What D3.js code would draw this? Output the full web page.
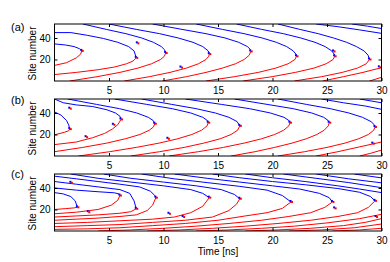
<!DOCTYPE html>
<html>
<head>
<meta charset="utf-8">
<script src="https://cdn.jsdelivr.net/npm/d3@7"></script>
<style>
  body { margin: 0; background: #fff; }
  text { font-family: "Liberation Sans", Arial, sans-serif; fill: #000; }
</style>
</head>
<body>
<svg id="chart" width="390" height="262"></svg>
<script>
//Tick values shared by the three panels
var xTicks = [5, 10, 15, 20, 25, 30];
var yTicks = [20, 40];
var panelLabels = ["(a)", "(b)", "(c)"];

//Trajectories, [time in ns, site number]
var blueA = [
  [[0,34.5],[1,33.5],[1.8,32],[2.3,30],[2.5,28]],
  [[0,45],[1.5,45],[3,42.5],[4.5,39.5],[5.8,36],[6.8,32],[7.3,28],[7.5,21.5]],
  [[2.6,53],[4.75,48],[6.55,44],[8,40],[9.07,36],[9.8,32],[10.1,29],[10.2,26]],
  [[5,53],[7.5,48],[9.65,44],[11.35,40],[12.7,36],[13.6,32],[14.1,28],[14.2,25]],
  [[9,53],[11.7,48],[13.9,44],[15.65,40],[16.9,36],[17.7,32],[17.95,29.5],[18,27.5]],
  [[13,53],[15.4,48],[17.4,44],[19.05,40],[20.35,36],[21.3,32],[21.9,28],[22.15,25],[22.2,23]],
  [[16.7,53],[19,48],[21,44],[22.6,40],[23.9,36],[24.83,32],[25.43,28],[25.66,25],[25.7,23]],
  [[20.5,53],[22.5,48],[24.2,44],[25.6,40],[26.8,36],[27.7,32],[28.4,28],[28.77,24],[28.9,20]],
  [[24,53],[26,50.5],[28,47.5],[30,44.3]],
  [[27.3,53],[28.7,51],[30,48.8]]
];
var redA = [
  [[0,14.5],[1.1,17],[2,21.5],[2.4,25],[2.5,28]],
  [[0,6],[2,8],[4,10.5],[5.5,13],[6.6,16],[7.2,18.5],[7.5,21.5]],
  [[1.4,0],[3.9,4],[6,8],[7.65,12],[8.9,16],[9.73,20],[10.08,23],[10.2,26]],
  [[6.4,0],[8.7,4],[10.6,8],[12.1,12],[13.2,16],[13.9,20],[14.15,23],[14.2,25]],
  [[9.9,0],[12.1,4],[13.9,8],[15.4,12],[16.6,16],[17.4,20],[17.87,24],[18,27.5]],
  [[13.9,0],[16.5,4],[18.7,8],[20.3,12],[21.43,16],[22.06,20],[22.2,23]],
  [[17.3,0],[19.96,4],[22.1,8],[23.8,12],[24.92,16],[25.56,20],[25.7,23]],
  [[22,0],[24.5,4],[26.4,8],[27.8,12],[28.6,16],[28.9,20]],
  [[24.6,0],[26.5,4],[28.3,8],[30,12.4]],
  [[28.9,0],[30,3.4]]
];
var extraA = [[7.6,35],[11.6,12.5],[25.6,27.5],[29.8,12.7]];

var blueB = [
  [[0,41],[0.6,38],[1.1,33],[1.3,29],[1.4,25]],
  [[0,53],[0.8,49.5],[2,47.5],[3.5,46],[4.8,43],[5.6,40],[6,37],[6.1,34]],
  [[1.2,53],[3.85,48],[5.97,44],[7.55,40],[8.6,36],[9.05,33],[9.2,30]],
  [[5.5,53],[8.46,48],[10.8,44],[12.5,40],[13.6,36],[14.02,33],[14.1,31]],
  [[8,53],[10.75,48],[13,44],[14.75,40],[16,36],[16.75,32],[17,28]],
  [[12,53],[15.3,48],[17.9,44],[19.8,40],[21.05,36],[21.5,33],[21.6,31]],
  [[16.5,53],[19.5,48],[21.9,44],[23.6,40],[24.7,36],[25.1,33],[25.2,31]],
  [[20.5,53],[23.1,48],[25.3,44],[27,40],[28.25,36],[29.04,32],[29.34,29],[29.4,27]],
  [[24.5,53],[26.5,49.5],[28.5,46.5],[30,43.4]],
  [[28,53],[30,49.5]]
];
var redB = [
  [[0,19.7],[0.9,22],[1.3,23.5],[1.4,25]],
  [[0,10.6],[2,13],[3.5,17],[4.6,21],[5.3,25],[5.8,29],[6.1,34]],
  [[0,4],[2.6,8],[4.8,12],[6.5,16],[7.84,20],[8.7,24],[9.08,27],[9.2,30]],
  [[2.2,0],[5.06,4],[7.5,8],[9.6,12],[11.3,16],[12.6,20],[13.5,24],[14,28],[14.1,31]],
  [[7,0],[9.65,4],[11.9,8],[13.7,12],[15.2,16],[16.2,20],[16.8,24],[17,28]],
  [[10.5,0],[13.2,4],[15.5,8],[17.4,12],[19,16],[20.2,20],[21.03,24],[21.5,28],[21.6,31]],
  [[16.2,0],[18.4,4],[20.2,8],[21.8,12],[23.1,16],[24.07,20],[24.74,24],[25.12,28],[25.2,31]],
  [[20.5,0],[22.95,4],[25,8],[26.65,12],[27.9,16],[28.8,20],[29.29,24],[29.4,27]],
  [[24,0],[26,4],[28,8.5],[30,13]],
  [[28,0],[29,2.5],[30,5.5]]
];
var extraB = [[1.4,44],[5.4,29],[2.9,17.5],[10.4,16],[29.2,11.5]];

var blueC = [
  [[0,35.7],[0.8,34.5],[1.5,32],[1.9,28],[2.1,22]],
  [[0,40],[2,38],[4,36.5],[5.5,35.5],[5.9,34.5],[6,33]],
  [[0,46],[2,43.5],[4,41],[6,38.5],[6.9,35],[7.3,28],[7.5,20.6]],
  [[0,51],[2,48.5],[4,46],[6,43.5],[7.8,41],[8.8,37],[9.2,33],[9.3,31]],
  [[1.5,53],[4,49],[7,45.5],[10,42],[12.5,38.5],[13.6,35],[14.2,31]],
  [[4.5,53],[7,49],[10,45.5],[13,42],[15.3,38.5],[16.5,34],[17,30]],
  [[8,53],[11,48.5],[14,45],[17,41.5],[19.5,38],[20.9,33],[21.7,27]],
  [[11,53],[14,49],[17,45.5],[20,42],[22.5,39],[24.3,35],[25.2,31],[25.5,27]],
  [[14.5,53],[17,49.5],[20,46],[23,43],[26,39.5],[28,36],[29,32],[29.4,28]],
  [[17.5,53],[20,49.5],[23,46],[26,42],[28,39],[30,35.7]],
  [[21,53],[24,49],[27,45],[30,40.3]],
  [[24,53],[27,48.5],[30,44.8]],
  [[27.5,53],[30,49.4]]
];
var redC = [
  [[0,20],[1,20.8],[1.8,21.5],[2.1,22]],
  [[0,16],[2,17.5],[4,20],[5.2,24],[5.8,28.5],[6,33]],
  [[0,13],[2,14],[4,15],[6,16.5],[7,18],[7.5,20.6]],
  [[0,10],[2,11],[4,12],[6,13.5],[7.5,15],[8.5,19],[9,24],[9.3,31]],
  [[0,7],[3,8],[6,9.5],[9,11],[11,13],[12.5,17],[13.6,23],[14.2,31]],
  [[0,4],[3,5],[6,6],[9,8],[12,10],[14.5,13],[16,19],[16.7,25],[17,30]],
  [[0,1.5],[3,2],[6,3],[9,5],[12,7],[15,10],[17.5,14],[19.5,17],[20.9,21],[21.7,27]],
  [[4,0],[7,1],[10,2.5],[13,4.5],[16,7],[19,10],[21.5,13.5],[23.5,17],[24.8,22],[25.5,27]],
  [[8.5,0],[11.5,1],[14.5,2.5],[17.5,4.5],[20.5,7],[23.5,10],[26,13.5],[27.8,17],[28.8,22],[29.4,28]],
  [[13,0],[16,1],[19,2.5],[22,4.5],[25,7.5],[28,11.5],[30,15.5]],
  [[17.5,0],[20.5,1],[23.5,2.5],[26.5,5],[28.5,8],[30,11.5]],
  [[21.5,0],[24.5,1],[27.5,3],[30,6.5]],
  [[25.5,0],[28,1],[30,2.5]]
];
var extraC = [[1.5,44.8],[3.1,17.5],[10.5,16],[11.8,13],[25.7,21],[29.5,13]];

var panels = [
  { blue: blueA, red: redA, extra: extraA, top: 24, labelY: 31 },
  { blue: blueB, red: redB, extra: extraB, top: 99, labelY: 103.5 },
  { blue: blueC, red: redC, extra: extraC, top: 174, labelY: 178 }
];

var svg = d3.select("svg#chart");
var panelHeight = 57;

var x = d3.scaleLinear().domain([0, 30]).range([54.5, 381.5]);
var y = d3.scaleLinear().domain([0, 53]).range([panelHeight, 0]);

var line = d3.line()
  .x(function (d) { return x(d[0]); })
  .y(function (d) { return y(d[1]); });

panels.forEach(function (p, i) {
  var g = svg.append("g").attr("transform", "translate(0," + p.top + ")");

  g.append("clipPath").attr("id", "clip" + i)
    .append("rect")
      .attr("x", x(0)).attr("y", 0)
      .attr("width", x(30) - x(0)).attr("height", panelHeight);

  var plot = g.append("g").attr("clip-path", "url(#clip" + i + ")");

  plot.selectAll("path.red")
    .data(p.red)
    .enter().append("path")
      .attr("class", "red")
      .attr("d", line)
      .attr("fill", "none")
      .attr("stroke", "#ff0000")
      .attr("stroke-width", 1);

  plot.selectAll("path.blue")
    .data(p.blue)
    .enter().append("path")
      .attr("class", "blue")
      .attr("d", line)
      .attr("fill", "none")
      .attr("stroke", "#0000ff")
      .attr("stroke-width", 1);

  //Meeting points: the end of every blue path inside the window, plus the extra ones
  var marks = p.blue
    .map(function (t) { return t[t.length - 1]; })
    .filter(function (d) { return d[0] < 30; })
    .concat(p.extra);

  var m = plot.selectAll("g.mark")
    .data(marks)
    .enter().append("g")
      .attr("class", "mark")
      .attr("transform", function (d) { return "translate(" + x(d[0]) + "," + y(d[1]) + ")"; });
  m.append("rect").attr("x", -1.5).attr("y", -2).attr("width", 2).attr("height", 2).attr("fill", "#0000ff");
  m.append("rect").attr("x", 0).attr("y", -1).attr("width", 2).attr("height", 2).attr("fill", "#ff0000");

  //Axes with inward ticks on all four sides
  var bottom = g.append("g")
    .attr("transform", "translate(0," + panelHeight + ")")
    .call(d3.axisBottom(x).tickValues(xTicks).tickSize(-3).tickPadding(5.5));
  var topAx = g.append("g")
    .call(d3.axisTop(x).tickValues(xTicks).tickSize(-3).tickFormat(""));
  var left = g.append("g")
    .attr("transform", "translate(" + x(0) + ",0)")
    .call(d3.axisLeft(y).tickValues(yTicks).tickSize(-3).tickPadding(4));
  var right = g.append("g")
    .attr("transform", "translate(" + x(30) + ",0)")
    .call(d3.axisRight(y).tickValues(yTicks).tickSize(-3).tickFormat(""));

  [bottom, topAx, left, right].forEach(function (a) {
    a.select(".domain").remove();
    a.selectAll("text")
      .style("font-family", "'Liberation Sans', Arial, sans-serif")
      .style("font-size", "10px")
      .attr("fill", "#000");
    a.selectAll("line").attr("stroke", "#000");
  });

  g.append("rect")
    .attr("x", x(0)).attr("y", 0)
    .attr("width", x(30) - x(0)).attr("height", panelHeight)
    .attr("fill", "none")
    .attr("stroke", "#000")
    .attr("stroke-width", 1);

  g.append("text")
    .attr("transform", "translate(36," + (panelHeight / 2 + 1) + ") rotate(-90)")
    .attr("text-anchor", "middle")
    .style("font-size", "10px")
    .text("Site number");

  svg.append("text")
    .attr("x", 11).attr("y", p.labelY)
    .style("font-size", "11px")
    .text(panelLabels[i]);
});

svg.append("text")
  .attr("x", (x(0) + x(30)) / 2).attr("y", 255)
  .attr("text-anchor", "middle")
  .style("font-size", "10px")
  .text("Time [ns]");
</script>
</body>
</html>
